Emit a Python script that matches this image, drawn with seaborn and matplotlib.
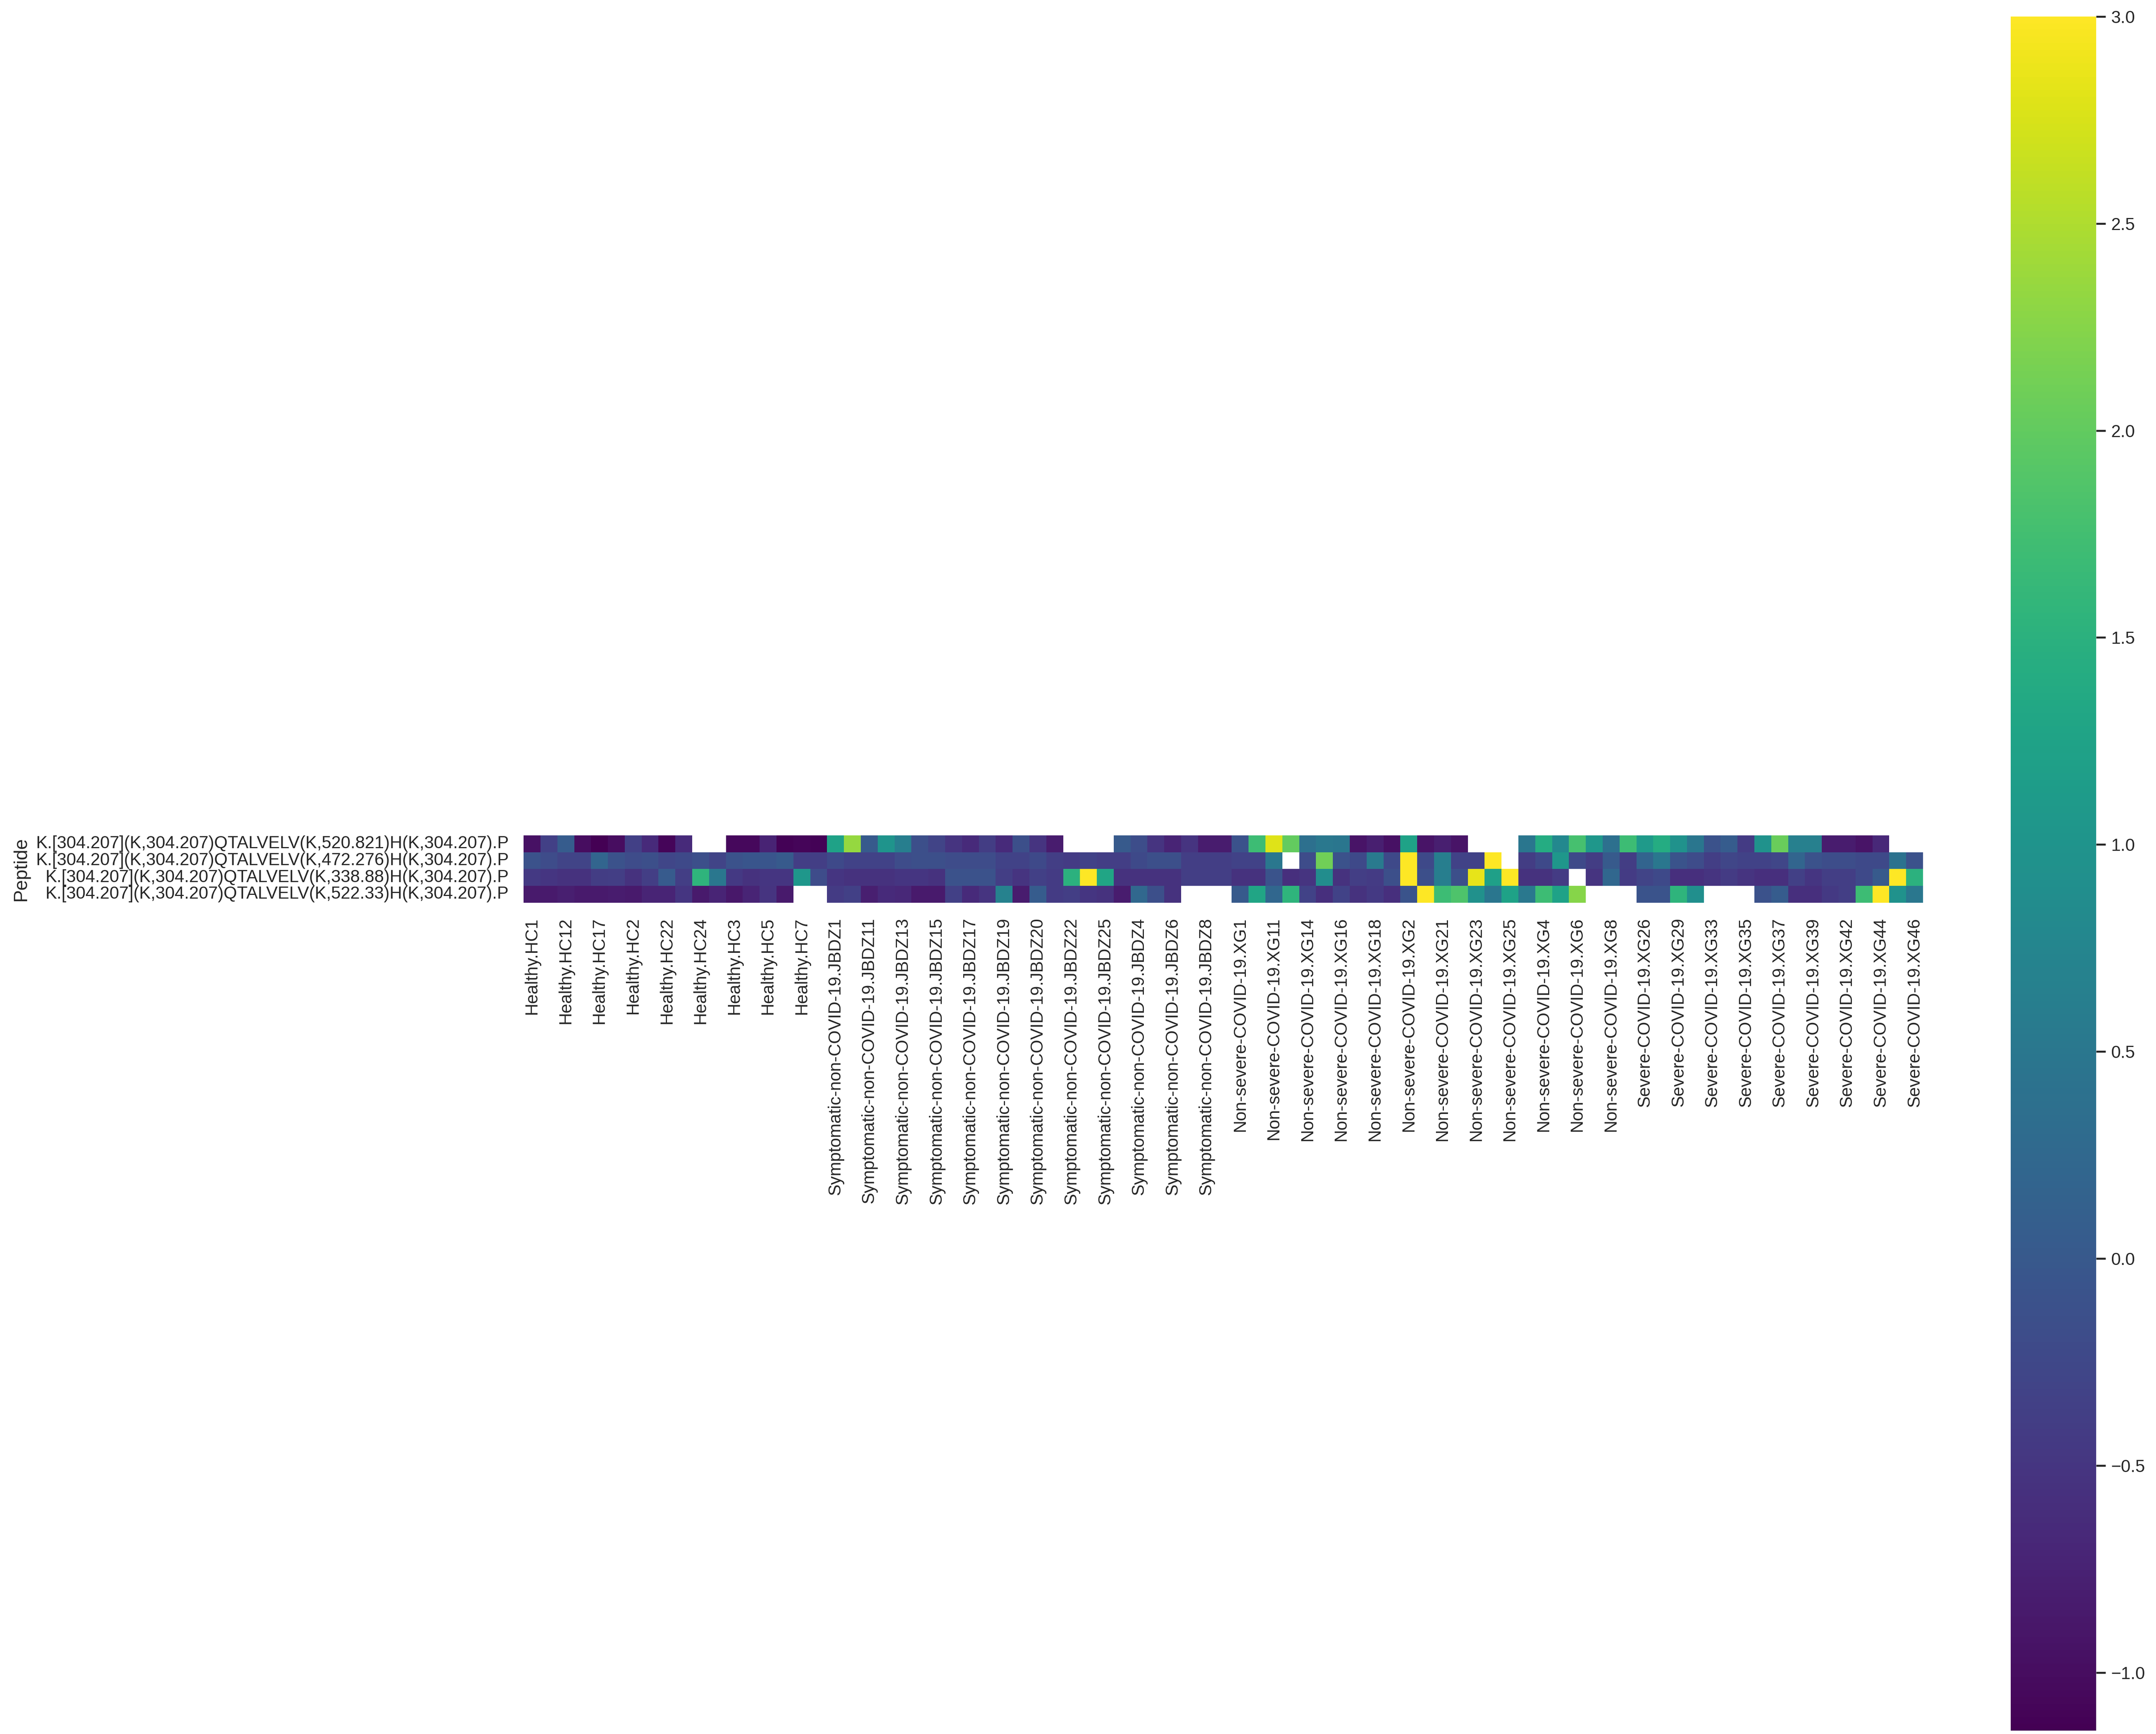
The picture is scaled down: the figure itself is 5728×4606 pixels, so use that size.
import numpy as np
import pandas as pd
import matplotlib
matplotlib.use("Agg")
import matplotlib.pyplot as plt
import seaborn as sns

nan = np.nan

# row labels (peptides)
peptides = [
    "K.[304.207](K,304.207)QTALVELV(K,520.821)H(K,304.207).P",
    "K.[304.207](K,304.207)QTALVELV(K,472.276)H(K,304.207).P",
    "K.[304.207](K,304.207)QTALVELV(K,338.88)H(K,304.207).P",
    "K.[304.207](K,304.207)QTALVELV(K,522.33)H(K,304.207).P",
]

# sample names per group (sorted as strings, like the original columns)
healthy = ["HC1", "HC11", "HC12", "HC15", "HC17", "HC19", "HC2", "HC20", "HC22",
           "HC23", "HC24", "HC25", "HC3", "HC4", "HC5", "HC6", "HC7", "HC8"]
symptomatic = ["JBDZ1", "JBDZ10", "JBDZ11", "JBDZ12", "JBDZ13", "JBDZ14", "JBDZ15",
               "JBDZ16", "JBDZ17", "JBDZ18", "JBDZ19", "JBDZ2", "JBDZ20", "JBDZ21",
               "JBDZ22", "JBDZ23", "JBDZ25", "JBDZ3", "JBDZ4", "JBDZ5", "JBDZ6",
               "JBDZ7", "JBDZ8", "JBDZ9"]
non_severe = ["XG1", "XG10", "XG11", "XG13", "XG14", "XG15", "XG16", "XG17", "XG18",
              "XG19", "XG2", "XG20", "XG21", "XG22", "XG23", "XG24", "XG25", "XG3",
              "XG4", "XG5", "XG6", "XG7", "XG8", "XG9"]
severe = ["XG26", "XG27", "XG29", "XG31", "XG33", "XG34", "XG35", "XG36", "XG37",
          "XG38", "XG39", "XG40", "XG42", "XG43", "XG44", "XG45", "XG46"]

# scaled intensities, one list per peptide (83 samples each)
pep_520 = [
    -0.95, -0.35, 0.05, -1.0, -1.14, -1.0, -0.35, -0.65, -1.08, -0.65, nan, nan, -1.05, -1.05,
    -0.75, -1.12, -1.08, -1.12,
    1.25, 2.35, 0.02, 1.0, 0.62, -0.15, -0.3, -0.52, -0.65, -0.4,
    -0.65, -0.15, -0.52, -0.82, nan, nan, nan, 0.02, -0.18, -0.52, -0.72, -0.52, -0.82, -0.82,
    -0.1, 1.7, 2.8, 2.0, 0.38, 0.52, 0.48, -0.92, -0.8, -0.95, 1.25, -0.92, -0.8, -0.92,
    nan, nan, nan, 0.48, 1.4, 0.8, 1.78, 1.05, 0.38, 1.7,
    1.1, 1.4, 0.95, 0.48, -0.1, 0.05, -0.42, 0.95, 2.05, 0.65, 0.65, -0.82, -0.82, -0.92,
    -0.68, nan, nan,
]
pep_472 = [
    -0.1, -0.2, -0.3, -0.3, 0.2, -0.1, -0.2, -0.15, -0.28, -0.22, -0.15, -0.3, -0.1, -0.05,
    -0.05, 0.02, -0.38, -0.38,
    -0.22, -0.32, -0.32, -0.32, -0.2, -0.15, -0.15, -0.2, -0.2, -0.2,
    -0.32, -0.32, -0.22, -0.38, -0.42, -0.32, -0.38, -0.38, -0.22, -0.15, -0.15, -0.38, -0.38, -0.38,
    -0.32, -0.32, 0.5, nan, -0.2, 2.1, -0.1, -0.22, 0.55, -0.22, 3.0, -0.22, 0.62, -0.32,
    -0.32, 3.0, nan, -0.4, -0.22, 1.05, -0.22, -0.4, 0.02, -0.4,
    0.18, 0.5, -0.08, -0.2, -0.38, -0.28, -0.32, -0.32, -0.28, 0.2, -0.1, -0.18, -0.18, -0.22,
    -0.22, 0.42, -0.1,
]
pep_338 = [
    -0.45, -0.5, -0.55, -0.55, -0.4, -0.38, -0.55, -0.38, 0.03, -0.38, 1.55, 0.5, -0.45, -0.55,
    -0.5, -0.5, 1.05, -0.2,
    -0.5, -0.55, -0.55, -0.55, -0.5, -0.5, -0.55, -0.1, -0.1, -0.1,
    -0.38, -0.52, -0.35, -0.42, 1.5, 3.0, 1.3, -0.55, -0.55, -0.55, -0.55, -0.38, -0.38, -0.38,
    -0.55, -0.55, -0.08, -0.58, -0.52, 0.88, -0.55, -0.38, -0.42, -0.15, 3.0, -0.15, 0.62, -0.15,
    2.85, 1.2, 3.0, -0.55, -0.55, -0.42, nan, -0.52, 0.22, -0.42,
    -0.3, -0.22, -0.58, -0.58, -0.52, -0.42, -0.52, -0.58, -0.58, -0.35, -0.5, -0.38, -0.38, -0.22,
    0.02, 3.0, 1.5,
]
pep_522 = [
    -0.85, -0.85, -0.8, -0.85, -0.85, -0.82, -0.85, -0.72, -0.72, -0.5, -0.85, -0.72, -0.88, -0.72,
    -0.52, -0.85, nan, nan,
    -0.42, -0.35, -0.8, -0.65, -0.68, -0.85, -0.85, -0.35, -0.65, -0.52,
    0.7, -0.82, 0.05, -0.42, -0.38, -0.5, -0.55, -0.82, 0.25, -0.15, -0.55, nan, nan, nan,
    0.02, 1.3, 0.22, 1.55, -0.32, -0.58, -0.32, -0.55, -0.45, -0.58, -0.08, 3.0, 1.7, 1.85,
    0.93, 0.48, 1.25, 0.52, 1.7, 1.25, 2.25, nan, nan, nan,
    -0.08, -0.08, 1.55, 0.9, nan, nan, nan, -0.1, 0.05, -0.58, -0.58, -0.45, -0.38, 1.7,
    3.0, 0.95, 0.5,
]

# Build the table
samples = (["Healthy." + s for s in healthy]
           + ["Symptomatic-non-COVID-19." + s for s in symptomatic]
           + ["Non-severe-COVID-19." + s for s in non_severe]
           + ["Severe-COVID-19." + s for s in severe])
df = pd.DataFrame([pep_520, pep_472, pep_338, pep_522], index=peptides, columns=samples)
df.index.name = "Peptide"

sns.set_theme(style="white")
plt.rcParams["font.family"] = ["Liberation Sans", "DejaVu Sans"]

fig = plt.figure(figsize=(5728 / 300, 4606 / 300), dpi=300)
ax = fig.add_axes([0.2427, 0.4794, 0.6494, 0.0389])
cax = fig.add_axes([0.9326, 0.0020, 0.0396, 0.9885])

sns.heatmap(df, ax=ax, cbar_ax=cax, cmap="viridis", vmin=-1.14, vmax=3,
            xticklabels=2, yticklabels=True, square=True)
ax.set_xlabel("")
ax.set_ylabel("Peptide")
ax.tick_params(axis="x", labelrotation=90)
ax.tick_params(axis="y", labelrotation=0)

fig.savefig("out.png", dpi=300)
